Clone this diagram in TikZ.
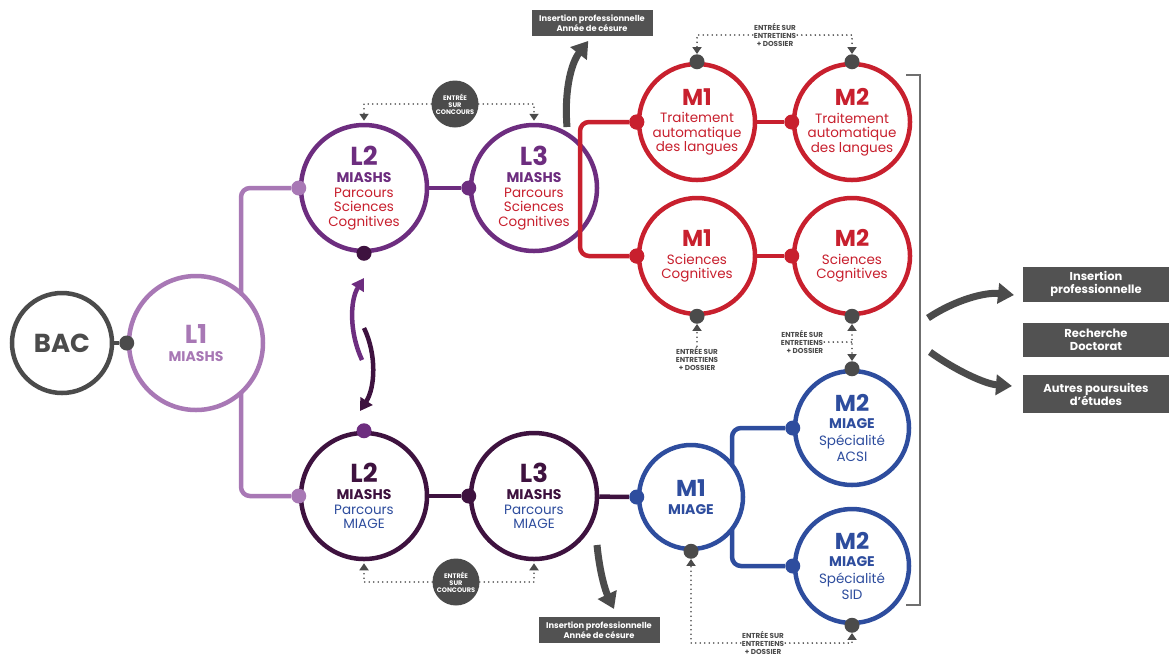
\documentclass[tikz,border=0pt]{standalone}
\usepackage{fontspec}
\setmainfont{Poppins}
\usetikzlibrary{arrows.meta,calc,positioning}
\pgfdeclarelayer{background}
\pgfsetlayers{background,main}

\definecolor{bacgray}{HTML}{4B4B4B}
\definecolor{boxgray}{HTML}{525252}
\definecolor{lilas}{HTML}{A878B5}
\definecolor{mauve}{HTML}{6D2D7F}
\definecolor{plum}{HTML}{3E123F}
\definecolor{talred}{HTML}{C8202E}
\definecolor{miageblue}{HTML}{2E4D9E}

\newcommand\niv[1]{{\fontsize{26}{26}\selectfont\bfseries #1}}
\newcommand\nivm[1]{{\fontsize{23}{23}\selectfont\bfseries #1}}
\newcommand\filiere[1]{{\fontsize{14}{14}\selectfont\bfseries #1}}

\tikzset{
  etape/.style={circle, draw=#1, line width=4.5pt, fill=white,
    inner sep=0pt, align=center},
  pt/.style={circle, fill=#1, inner sep=0pt, minimum size=15pt},
  lien/.style={draw=#1, line width=4.5pt, rounded corners=9pt},
  fleche/.style={draw=#1, line width=4.5pt, -{Triangle[width=14pt,length=12pt]}},
  grosfleche/.style={draw=bacgray, line width=7pt,
    -{Triangle[width=20pt,length=16pt]}},
  entree/.style={draw=bacgray, line width=1.8pt, dash pattern=on 0pt off 4.5pt,
    line cap=round, -{Triangle[width=9pt,length=7pt]}},
  entlab/.style={text=bacgray, align=center, fill=white, inner sep=1pt,
    font=\fontsize{7.2}{8}\selectfont\bfseries},
  concours/.style={circle, fill=bacgray, text=white, minimum size=47pt,
    inner sep=0pt, align=center, font=\fontsize{6.6}{7.2}\selectfont\bfseries},
  boite/.style={rectangle, fill=boxgray, text=white, align=center,
    minimum width=146pt, inner sep=2pt,
    font=\fontsize{11.5}{13}\selectfont\bfseries},
  petiteboite/.style={rectangle, fill=boxgray, text=white, align=center,
    minimum width=121pt, minimum height=26pt, inner sep=2pt,
    font=\fontsize{8.3}{9}\selectfont\bfseries},
}

\begin{document}
\begin{tikzpicture}[x=1pt, y=-1pt, font=\fontsize{13.5}{14.5}\selectfont]
\useasboundingbox (0,0) rectangle (1169,657);

% licence
\node[etape=bacgray, minimum size=100pt, text=bacgray] (bac) at (62,343) {\niv{BAC}};
\node[etape=lilas, minimum size=134pt, text=lilas] (lone) at (196,343)
  {\niv{L1}\\[3pt]\filiere{MIASHS}};
\node[etape=mauve, minimum size=126pt, text=talred] (ltwosc) at (364,188)
  {\textcolor{mauve}{\niv{L2}}\\[3pt]\textcolor{mauve}{\filiere{MIASHS}}\\Parcours\\Sciences\\Cognitives};
\node[etape=mauve, minimum size=126pt, text=talred] (lthreesc) at (534,188)
  {\textcolor{mauve}{\niv{L3}}\\[3pt]\textcolor{mauve}{\filiere{MIASHS}}\\Parcours\\Sciences\\Cognitives};
\node[etape=plum, minimum size=126pt, text=miageblue] (ltwomi) at (364,496)
  {\textcolor{plum}{\niv{L2}}\\[3pt]\textcolor{plum}{\filiere{MIASHS}}\\Parcours\\MIAGE};
\node[etape=plum, minimum size=126pt, text=miageblue] (lthreemi) at (534,496)
  {\textcolor{plum}{\niv{L3}}\\[3pt]\textcolor{plum}{\filiere{MIASHS}}\\Parcours\\MIAGE};

% masters
\node[etape=talred, minimum size=116pt, text=talred] (monetal) at (697,122)
  {\nivm{M1}\\[3pt]Traitement\\automatique\\des langues};
\node[etape=talred, minimum size=116pt, text=talred] (mtwotal) at (852,122)
  {\nivm{M2}\\[3pt]Traitement\\automatique\\des langues};
\node[etape=talred, minimum size=116pt, text=talred] (monesc) at (697,256)
  {\nivm{M1}\\[3pt]Sciences\\Cognitives};
\node[etape=talred, minimum size=116pt, text=talred] (mtwosc) at (852,256)
  {\nivm{M2}\\[3pt]Sciences\\Cognitives};
\node[etape=miageblue, minimum size=104pt, text=miageblue] (monemiage) at (691,497)
  {\nivm{M1}\\[3pt]\filiere{MIAGE}};
\node[etape=miageblue, minimum size=114pt, text=miageblue] (mtwoacsi) at (852,428)
  {\nivm{M2}\\[3pt]\filiere{MIAGE}\\[2pt]Spécialité\\[2pt]ACSI};
\node[etape=miageblue, minimum size=114pt, text=miageblue] (mtwosid) at (852,566)
  {\nivm{M2}\\[3pt]\filiere{MIAGE}\\[2pt]Spécialité\\[2pt]SID};

% points
\node[pt=bacgray] (dlone) at (lone.west) {};
\node[pt=lilas] (dtwosc) at (ltwosc.west) {};
\node[pt=lilas] (dtwomi) at (ltwomi.west) {};
\node[pt=mauve] (dthreesc) at (lthreesc.west) {};
\node[pt=plum] (dthreemi) at (lthreemi.west) {};
\node[pt=plum] (dtwoscs) at (ltwosc.south) {};
\node[pt=mauve] (dtwomin) at (ltwomi.north) {};
\node[pt=talred] (donetal) at (monetal.west) {};
\node[pt=talred] (dtwotal) at (mtwotal.west) {};
\node[pt=talred] (donesc) at (monesc.west) {};
\node[pt=talred] (dtwosce) at (mtwosc.west) {};
\node[pt=miageblue] (dmiage) at (monemiage.west) {};
\node[pt=miageblue] (dacsi) at (mtwoacsi.west) {};
\node[pt=miageblue] (dsid) at (mtwosid.west) {};
\node[pt=bacgray] (gtal1) at (monetal.north) {};
\node[pt=bacgray] (gtal2) at (mtwotal.north) {};
\node[pt=bacgray] (gsc1) at (monesc.south) {};
\node[pt=bacgray] (gsc2) at (mtwosc.south) {};
\node[pt=bacgray] (gacsi) at (mtwoacsi.north) {};
\node[pt=bacgray] (gsid) at (mtwosid.south) {};
\node[pt=bacgray] (gmiage) at (monemiage.south) {};

\coordinate (lfork) at (241,343);
\coordinate (rfork) at (580,188);
\coordinate (bfork) at (732,497);

\begin{pgfonlayer}{background}
\draw[lien=bacgray] (bac) -- (dlone);
\draw[lien=lilas] (dtwosc) -| (lfork) |- (dtwomi);
\draw[lien=mauve] (ltwosc) -- (dthreesc);
\draw[lien=plum] (ltwomi) -- (dthreemi);
\draw[lien=plum] (lthreemi) -- (dmiage);
\draw[lien=talred] (monetal) -- (dtwotal);
\draw[lien=talred] (monesc) -- (dtwosce);
\draw[lien=miageblue] (dacsi) -| (bfork) |- (dsid);
\end{pgfonlayer}
\draw[lien=talred] (donetal) -| (rfork) |- (donesc);
\node[pt=talred] at (donetal) {};
\node[pt=talred] at (donesc) {};

% passerelle
\coordinate (upA) at (362,360);
\coordinate (upB) at (364,278);
\coordinate (dnA) at (364,328);
\coordinate (dnB) at (360,411);
\draw[fleche=mauve] (upA) .. controls (349,332) and (350,300) .. (upB);
\draw[fleche=plum] (dnA) .. controls (377,355) and (375,388) .. (dnB);

% concours
\node[concours] (concA) at (455,104) {ENTRÉE\\SUR\\CONCOURS};
\node[concours] (concB) at (456,582) {ENTRÉE\\SUR\\CONCOURS};
\draw[entree, shorten >=2pt] (concA.west) -| (ltwosc);
\draw[entree, shorten >=2pt] (concA.east) -| (lthreesc);
\draw[entree, shorten >=2pt] (concB.west) -| (ltwomi);
\draw[entree, shorten >=2pt] (concB.east) -| (lthreemi);

% entretiens
\node[entlab] (entA) at (775,35) {ENTRÉE SUR\\ENTRETIENS\\+ DOSSIER};
\node[entlab] (entB) at (697,359) {ENTRÉE SUR\\ENTRETIENS\\+ DOSSIER};
\node[entlab, align=right] (entC) at (802,342) {ENTRÉE SUR\\ENTRETIENS\\+ DOSSIER};
\node[entlab] (entD) at (763,643) {ENTRÉE SUR\\ENTRETIENS\\+ DOSSIER};
\draw[entree] (entA.west) -| (gtal1);
\draw[entree] (entA.east) -| (gtal2);
\draw[entree] (entB) -- (gsc1);
\draw[entree, {Triangle[width=9pt,length=7pt]}-{Triangle[width=9pt,length=7pt]}] (gsc2) -- (gacsi);
\draw[entree, -] (entC.east) -- (entC.east -| gsc2);
\draw[entree] (entD.west) -| (gmiage);
\draw[entree] (entD.east) -| (gsid);

% sorties
\node[petiteboite] (insA) at (592,23) {Insertion professionnelle\\Année de césure};
\node[petiteboite] (insB) at (599,630) {Insertion professionnelle\\Année de césure};
\coordinate (insAtail) at (567,127);
\coordinate (insBtail) at (597,545);
\coordinate (insBtip) at (614,609);
\draw[grosfleche, shorten >=6pt] (insAtail) .. controls (564,88) and (572,62) .. (insA.south);
\draw[grosfleche] (insBtail) .. controls (600,575) and (606,592) .. (insBtip);

\node[boite, minimum height=35pt] (outA) at (1096,284) {Insertion\\professionnelle};
\node[boite, minimum height=34pt] (outB) at (1096,340) {Recherche\\Doctorat};
\node[boite, minimum height=38pt] (outC) at (1096,394) {Autres poursuites\\d'études};

\draw[bacgray!80, line width=1.2pt] (906,75) -- (920,75) -- (920,605) -- (906,605);

\coordinate (outtail1) at (928,318);
\coordinate (outtip1) at (1014,295);
\coordinate (outtail2) at (930,352);
\coordinate (outtip2) at (1012,386);
\draw[grosfleche] (outtail1) .. controls (955,300) and (985,292) .. (outtip1);
\draw[grosfleche] (outtail2) .. controls (955,370) and (985,384) .. (outtip2);

\end{tikzpicture}
\end{document}
